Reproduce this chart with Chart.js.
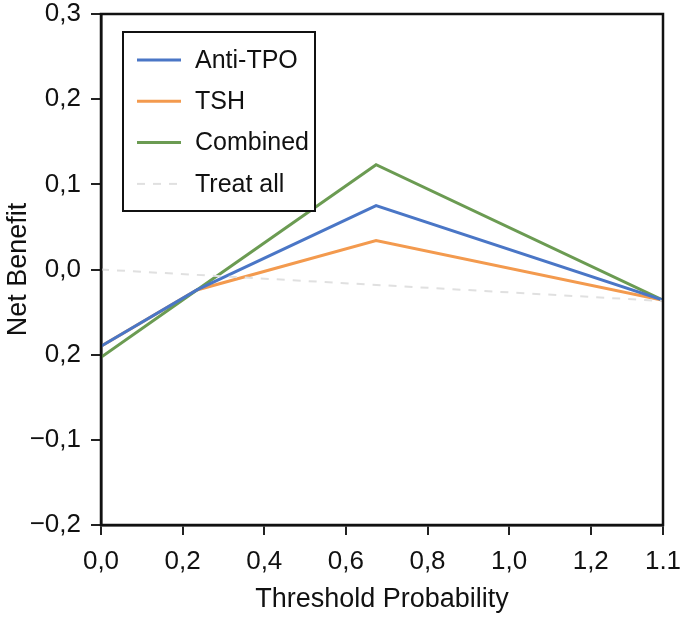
<!DOCTYPE html>
<html>
<head>
<meta charset="utf-8">
<script src="https://cdn.jsdelivr.net/npm/chart.js@4"></script>
<style>
  html, body { margin: 0; padding: 0; background: #fff; }
  #wrap { width: 680px; height: 620px; }
</style>
</head>
<body>
<div id="wrap"><canvas id="grafico"></canvas></div>
<script>
// dados
const seriesNames = ["Anti-TPO", "TSH", "Combined", "Treat all"];
const antiTpo = [{x: 0, y: -0.090}, {x: 0.235, y: -0.024}, {x: 0.674, y: 0.075}, {x: 1.377, y: -0.036}];
const tsh = [{x: 0, y: -0.090}, {x: 0.235, y: -0.024}, {x: 0.674, y: 0.034}, {x: 1.377, y: -0.036}];
const combined = [{x: 0, y: -0.103}, {x: 0.235, y: -0.024}, {x: 0.674, y: 0.123}, {x: 1.377, y: -0.036}];
const treatAll = [{x: 0, y: 0.0}, {x: 1.377, y: -0.037}];

const xTickValues = [0, 0.2, 0.4, 0.6, 0.8, 1.0, 1.2, 1.377];
const xTickLabels = ["0,0", "0,2", "0,4", "0,6", "0,8", "1,0", "1,2", "1.1"];
const yTickValues = [-0.3, -0.2, -0.1, 0.0, 0.1, 0.2, 0.3];
const yTickLabels = ["\u22120,2", "\u22120,1", "0,2", "0,0", "0,1", "0,2", "0,3"];

const fonte = "'Liberation Sans', Arial, Helvetica, sans-serif";

// legenda dentro do grafico, com caixa
const legendaBox = {
    id: "legendaBox",
    afterDatasetsDraw(chart) {
        const ctx = chart.ctx;
        const area = chart.chartArea;
        const x0 = area.left + 22;
        const y0 = area.top + 18;
        const w = 192;
        const h = 179;
        ctx.save();
        ctx.fillStyle = "#fff";
        ctx.fillRect(x0, y0, w, h);
        ctx.strokeStyle = "#111";
        ctx.lineWidth = 2;
        ctx.strokeRect(x0, y0, w, h);
        const ordem = [1, 2, 3, 0]; // indices dos datasets na ordem da legenda
        ctx.font = "25px " + fonte;
        ctx.textBaseline = "middle";
        ordem.forEach((idx, i) => {
            const ds = chart.data.datasets[idx];
            const y = y0 + 28 + i * 41.3;
            ctx.beginPath();
            ctx.strokeStyle = ds.borderColor;
            ctx.lineWidth = ds.borderWidth;
            ctx.setLineDash(ds.borderDash || []);
            ctx.moveTo(x0 + 14, y);
            ctx.lineTo(x0 + 58, y);
            ctx.stroke();
            ctx.setLineDash([]);
            ctx.fillStyle = "#111";
            ctx.fillText(ds.label, x0 + 72, y + 1);
        });
        ctx.restore();
    }
};

// moldura em volta da area do grafico
const moldura = {
    id: "moldura",
    afterDraw(chart) {
        const ctx = chart.ctx;
        const a = chart.chartArea;
        ctx.save();
        ctx.strokeStyle = "#111";
        ctx.lineWidth = 2.5;
        ctx.strokeRect(a.left, a.top, a.right - a.left, a.bottom - a.top);
        ctx.restore();
    }
};

const ctx = document.getElementById("grafico").getContext("2d");

new Chart(ctx, {
    type: "line",
    data: {
        datasets: [
            {
                label: seriesNames[3],
                data: treatAll,
                borderColor: "#e0e0e0",
                borderWidth: 2,
                borderDash: [8, 8],
                pointRadius: 0,
                fill: false
            },
            {
                label: seriesNames[0],
                data: antiTpo,
                borderColor: "#4a76c6",
                borderWidth: 3,
                pointRadius: 0,
                fill: false
            },
            {
                label: seriesNames[1],
                data: tsh,
                borderColor: "#f39a4e",
                borderWidth: 3,
                pointRadius: 0,
                fill: false,
                order: 2
            },
            {
                label: seriesNames[2],
                data: combined,
                borderColor: "#6b9b52",
                borderWidth: 3,
                pointRadius: 0,
                fill: false
            }
        ]
    },
    options: {
        responsive: true,
        maintainAspectRatio: false,
        animation: false,
        layout: { padding: { left: 0, right: 17, top: 14, bottom: 0 } },
        plugins: {
            legend: { display: false },
            tooltip: { enabled: false }
        },
        scales: {
            x: {
                type: "linear",
                min: 0,
                max: 1.377,
                afterBuildTicks: scale => {
                    scale.ticks = xTickValues.map(v => ({ value: v }));
                },
                afterFit: scale => {
                    scale.height = 95;
                    scale.paddingLeft = 0;
                    scale.paddingRight = 0;
                },
                ticks: {
                    autoSkip: false,
                    maxRotation: 0,
                    padding: 11,
                    color: "#111",
                    font: { family: fonte, size: 26 },
                    callback: (value, i) => xTickLabels[i]
                },
                grid: {
                    drawOnChartArea: false,
                    drawTicks: true,
                    tickLength: 10,
                    color: "#222",
                    lineWidth: 2
                },
                border: { display: true, color: "#111", width: 2.5 },
                title: {
                    display: true,
                    text: "Threshold Probability",
                    color: "#111",
                    font: { family: fonte, size: 27 },
                    padding: { top: 0, bottom: 4 }
                }
            },
            y: {
                type: "linear",
                min: -0.3,
                max: 0.3,
                afterBuildTicks: scale => {
                    scale.ticks = yTickValues.map(v => ({ value: v }));
                },
                afterFit: scale => {
                    scale.width = 101;
                    scale.paddingTop = 0;
                    scale.paddingBottom = 0;
                },
                ticks: {
                    autoSkip: false,
                    padding: 10,
                    color: "#111",
                    font: { family: fonte, size: 26 },
                    callback: (value, i) => yTickLabels[i]
                },
                grid: {
                    drawOnChartArea: false,
                    drawTicks: true,
                    tickLength: 10,
                    color: "#222",
                    lineWidth: 2
                },
                border: { display: true, color: "#111", width: 2.5 },
                title: {
                    display: true,
                    text: "Net Benefit",
                    color: "#111",
                    font: { family: fonte, size: 27 },
                    padding: { top: 2, bottom: 0 }
                }
            }
        }
    },
    plugins: [legendaBox, moldura]
});
</script>
</body>
</html>
